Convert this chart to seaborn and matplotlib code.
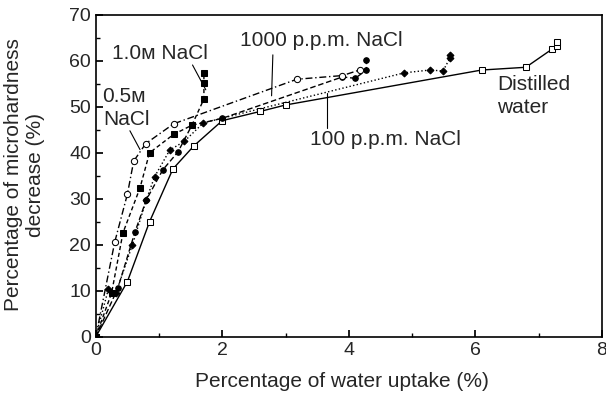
import matplotlib
matplotlib.use("Agg")
import matplotlib.pyplot as plt
import seaborn as sb
import numpy as np
from matplotlib.ticker import MultipleLocator

# Data
dw_x = [0, 0.5, 0.85, 1.22, 1.55, 2.0, 2.6, 3.0, 6.1, 6.8, 7.22, 7.3, 7.3]
dw_y = [0, 12, 25, 36.5, 41.5, 47, 49, 50.4, 58, 58.6, 62.6, 63.3, 64]

ppm100_x = [0, 0.2, 0.32, 0.58, 0.8, 0.93, 1.17, 1.4, 1.7, 4.88, 5.28, 5.49, 5.6, 5.6]
ppm100_y = [0, 10.4, 9.6, 20, 29.8, 34.8, 40.6, 42.5, 46.5, 57.4, 58, 57.8, 60.6, 61.3]

ppm1000_x = [0, 0.35, 0.62, 0.8, 1.06, 1.3, 1.52, 2.0, 3.9, 4.1, 4.28, 4.28]
ppm1000_y = [0, 10.6, 22.8, 29.8, 36.3, 40.2, 46, 47.5, 56.5, 56.2, 58, 60.2]

m05_x = [0, 0.3, 0.5, 0.6, 0.79, 1.23, 3.18, 3.9, 4.17]
m05_y = [0, 20.6, 31, 38.2, 42, 46.3, 56, 56.8, 58]

m10_x = [0, 0.25, 0.43, 0.7, 0.85, 1.23, 1.52, 1.71, 1.71, 1.71]
m10_y = [0, 9.5, 22.6, 32.4, 40, 44, 46, 51.7, 55.2, 57.4]

sb.set_theme(style="ticks")
plt.rcParams["font.family"] = ["Liberation Sans", "DejaVu Sans"]

fig = plt.figure(figsize=(6.06, 4.01), dpi=100)
ax = fig.add_axes([0.158, 0.16, 0.835, 0.803])

series = [
    (dw_x, dw_y, "-", "s", "white", 4.5),
    (ppm100_x, ppm100_y, ":", "D", "black", 3.5),
    (ppm1000_x, ppm1000_y, (0, (4, 2)), "o", "black", 4),
    (m05_x, m05_y, (0, (5, 2, 1, 2)), "o", "white", 4.5),
    (m10_x, m10_y, (0, (3, 2)), "s", "black", 4),
]
for xs, ys, ls, mk, fc, ms in series:
    sb.lineplot(x=xs, y=ys, ax=ax, color="black", linestyle=ls, linewidth=1,
                marker=mk, markerfacecolor=fc, markeredgecolor="black",
                markersize=ms, sort=False, estimator=None)

ax.set_xlim(0, 8)
ax.set_ylim(0, 70)
ax.xaxis.set_major_locator(MultipleLocator(2))
ax.xaxis.set_minor_locator(MultipleLocator(1))
ax.yaxis.set_major_locator(MultipleLocator(10))
ax.yaxis.set_minor_locator(MultipleLocator(5))
ax.tick_params(which="both", direction="in", color="black", labelsize=14)
ax.tick_params(which="major", length=5)
ax.tick_params(which="minor", length=3)
for s in ax.spines.values():
    s.set_color("black")
    s.set_linewidth(1.2)

ax.set_xlabel("Percentage of water uptake (%)", fontsize=15)
ax.set_ylabel("Percentage of microhardness\ndecrease (%)", fontsize=15,
              linespacing=1.2)
ax.xaxis.set_label_coords(0.486, -0.108)
ax.yaxis.set_label_coords(-0.10, 0.503)

# Labels and leader lines
fs = 15
ax.text(1.01, 61.7, "1.0ᴍ NaCl", fontsize=fs, ha="center", va="center")
ax.plot([1.53, 1.74], [59.1, 53.7], color="black", linewidth=0.8)
ax.text(0.44, 52.2, "0.5ᴍ", fontsize=fs, ha="center", va="center")
ax.text(0.49, 47.2, "NaCl", fontsize=fs, ha="center", va="center")
ax.plot([0.54, 0.7], [44.8, 40.7], color="black", linewidth=0.8)
ax.text(3.56, 64.5, "1000 p.p.m. NaCl", fontsize=fs, ha="center", va="center")
ax.plot([2.8, 2.78], [61.3, 52.4], color="black", linewidth=0.8)
ax.text(4.58, 42.8, "100 p.p.m. NaCl", fontsize=fs, ha="center", va="center")
ax.plot([3.66, 3.66], [45.4, 53.0], color="black", linewidth=0.8)
ax.text(6.34, 54.8, "Distilled", fontsize=fs, ha="left", va="center")
ax.text(6.34, 49.8, "water", fontsize=fs, ha="left", va="center")

fig.savefig("out.png", dpi=100)
